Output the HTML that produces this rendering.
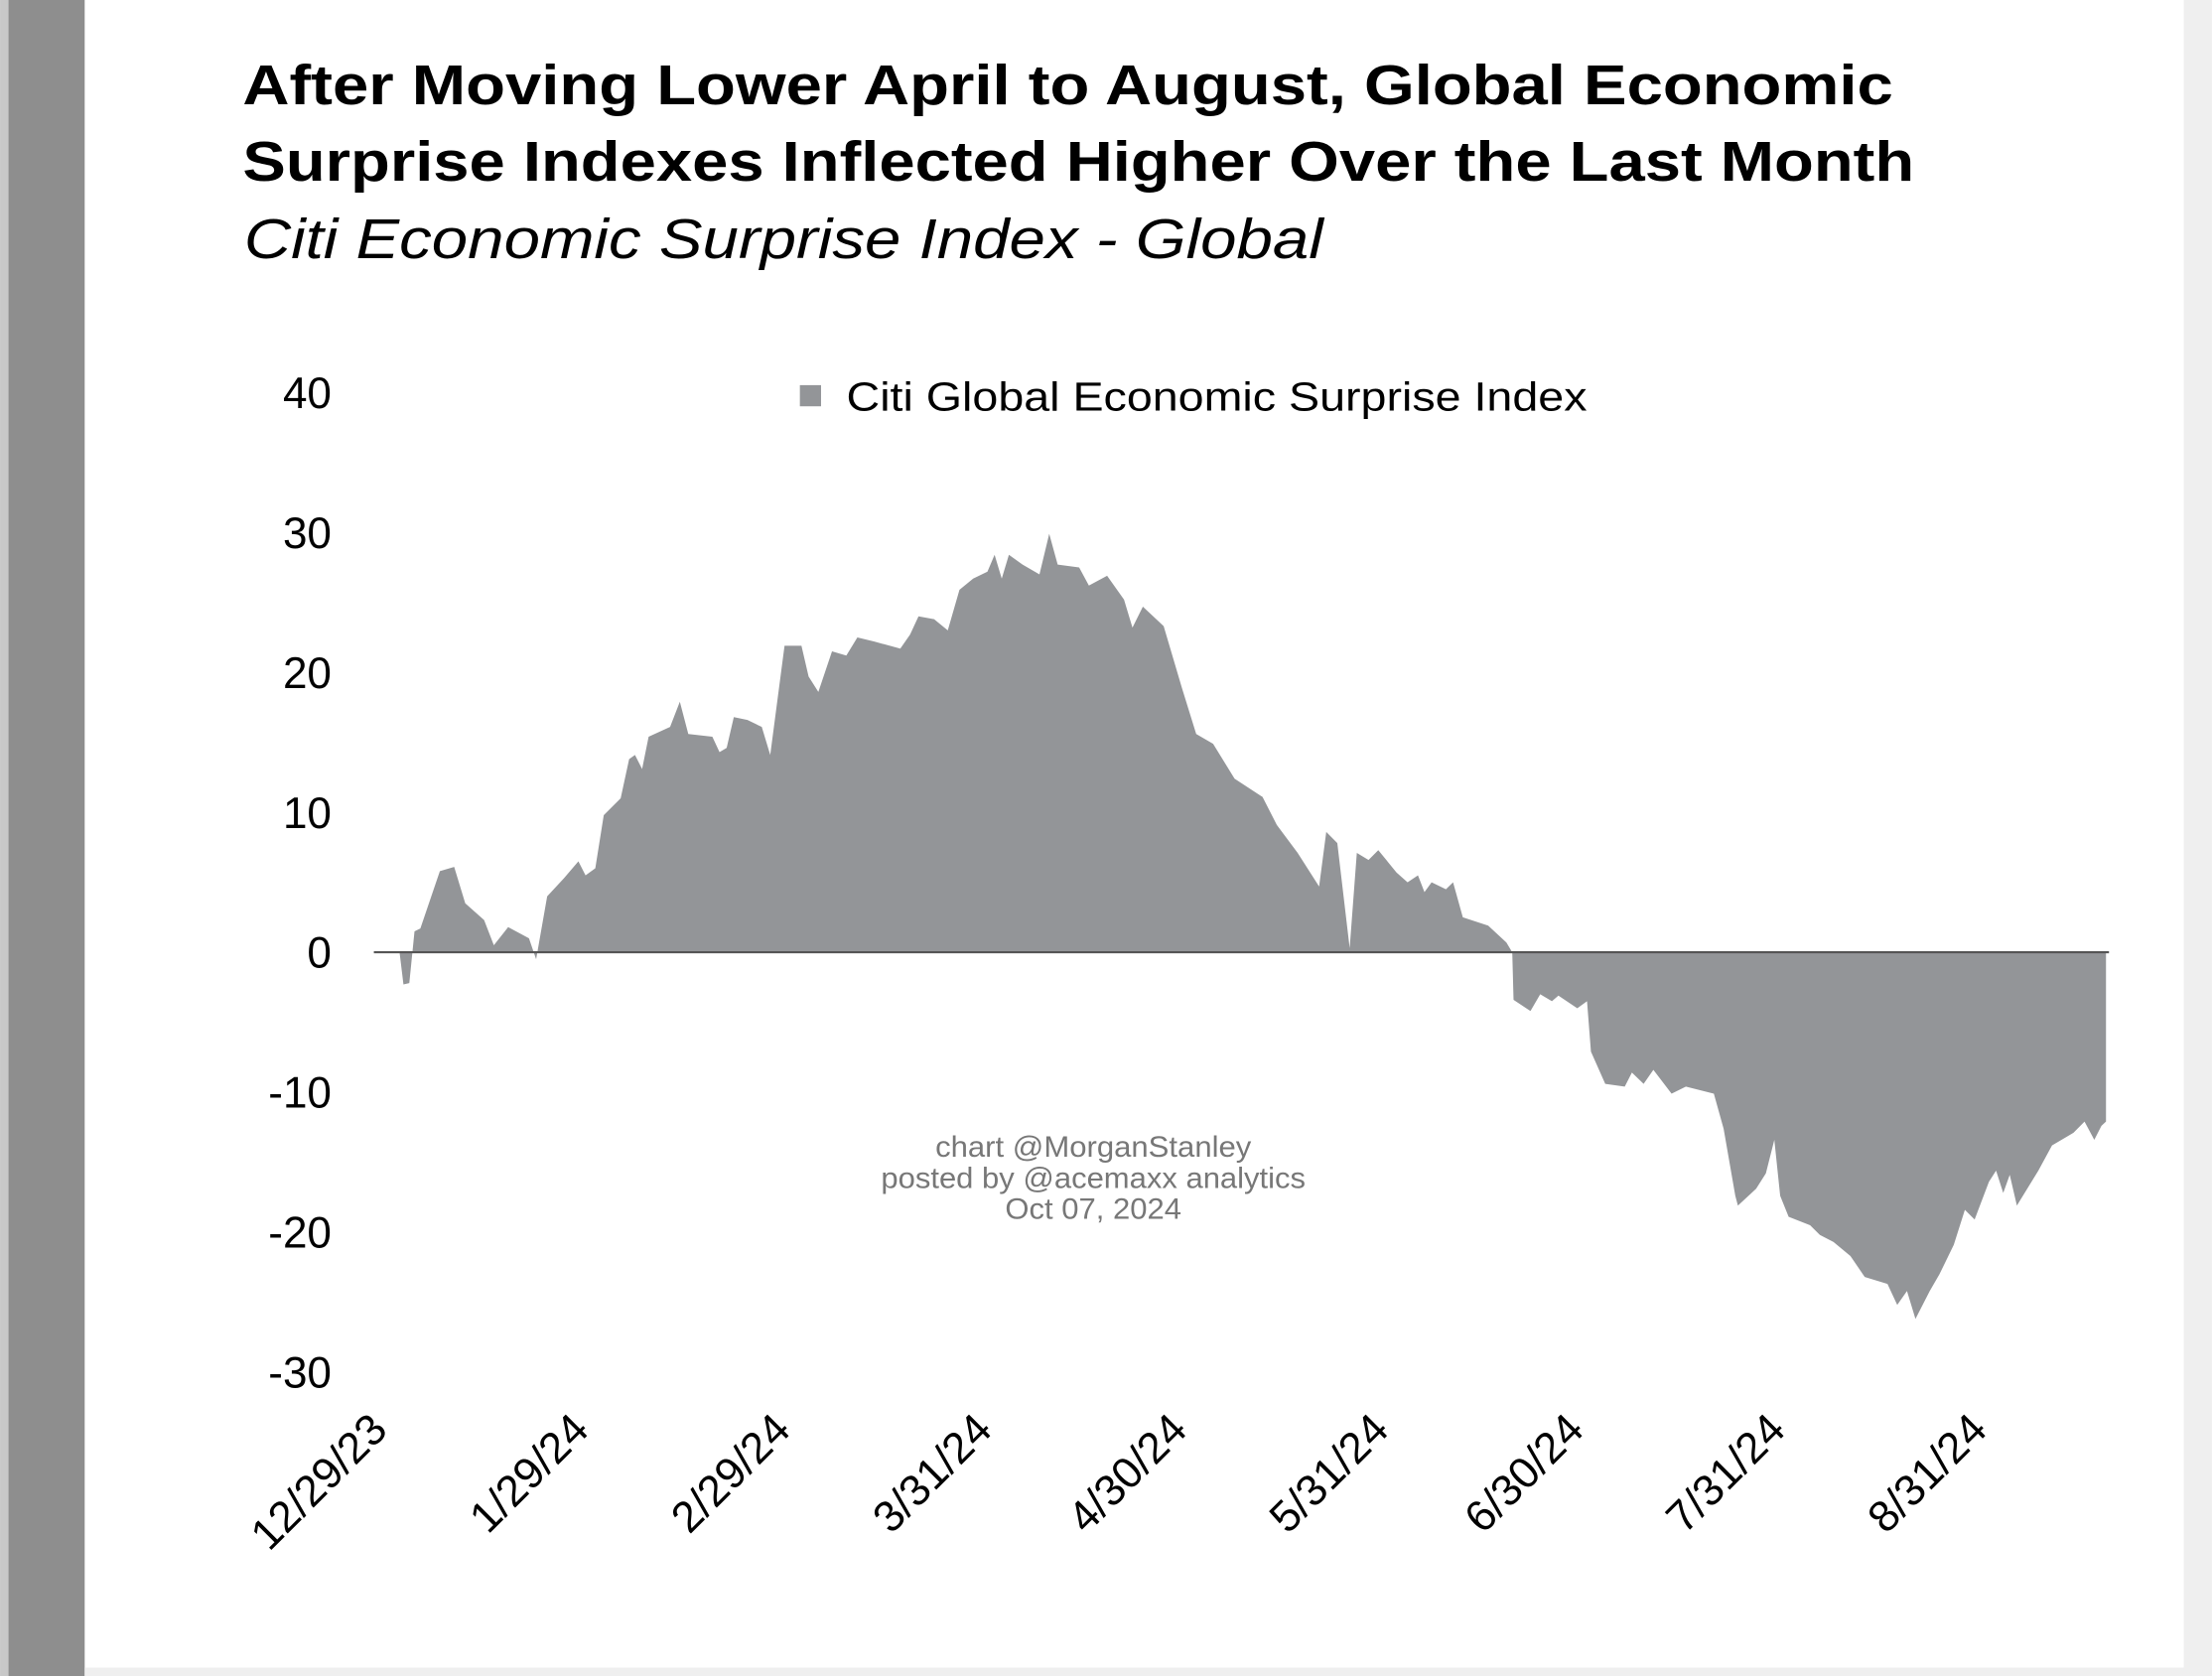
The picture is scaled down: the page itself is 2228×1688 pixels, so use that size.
<!DOCTYPE html>
<html><head><meta charset="utf-8"><style>
html,body{margin:0;padding:0;background:#fff;}
svg{display:block;}
</style></head><body>
<svg id="chart" width="2228" height="1688" viewBox="0 0 1568 1188" xmlns="http://www.w3.org/2000/svg" font-family="'Liberation Sans', Arial, sans-serif">
<rect x="0" y="0" width="1568" height="1188" fill="#ffffff"/>
<rect x="0" y="0" width="6" height="1188" fill="#c8c8c8"/>
<rect x="6" y="0" width="54" height="1188" fill="#8e8e8e"/>
<rect x="1548" y="0" width="20" height="1188" fill="#efefef"/>
<rect x="60" y="1182" width="1508" height="6" fill="#efefef"/>
<text x="172" y="74" font-size="40" font-weight="bold" textLength="1170" lengthAdjust="spacingAndGlyphs">After Moving Lower April to August, Global Economic</text>
<text x="172" y="128" font-size="40" font-weight="bold" textLength="1185" lengthAdjust="spacingAndGlyphs">Surprise Indexes Inflected Higher Over the Last Month</text>
<text x="173" y="183" font-size="40" font-style="italic" textLength="765" lengthAdjust="spacingAndGlyphs">Citi Economic Surprise Index - Global</text>
<rect x="567" y="273" width="15" height="15" fill="#939598"/>
<text x="600" y="291" font-size="29" textLength="525" lengthAdjust="spacingAndGlyphs">Citi Global Economic Surprise Index</text>
<g id="yaxis"></g>
<g id="xaxis"></g>
<g id="plot"></g>
<g font-size="21" fill="#777" text-anchor="middle">
<text x="775" y="820" textLength="224" lengthAdjust="spacingAndGlyphs">chart @MorganStanley</text>
<text x="775" y="842" textLength="301" lengthAdjust="spacingAndGlyphs">posted by @acemaxx analytics</text>
<text x="775" y="864" textLength="125" lengthAdjust="spacingAndGlyphs">Oct 07, 2024</text>
</g>
</svg>
<script>
const yTicks = [40, 30, 20, 10, 0, -10, -20, -30];
const xTickLabels = ["12/29/23","1/29/24","2/29/24","3/31/24","4/30/24","5/31/24","6/30/24","7/31/24","8/31/24"];
const xTickDays = [0, 31, 62, 93, 123, 154, 184, 215, 246];
const days = [-0.5,3.3,3.9,4.8,5.6,6.5,9.5,11.7,13.4,16.3,17.8,20.0,23.2,24.3,26.0,28.6,30.8,31.9,33.4,34.7,37.3,38.6,39.5,40.6,41.6,44.9,46.4,47.7,51.4,52.5,53.6,54.7,56.8,59.0,60.3,62.5,65.1,66.2,67.7,69.8,72.0,73.7,76.3,80.3,81.8,83.1,85.5,87.6,89.4,91.5,93.7,94.8,95.9,97.0,99.1,101.7,103.2,104.5,107.8,109.3,112.1,114.7,116.0,117.6,120.8,123.6,125.8,128.4,131.7,136.0,138.2,141.4,144.7,145.8,147.5,149.4,150.5,152.3,153.8,156.6,158.3,159.9,160.9,162.0,164.2,165.3,166.8,170.7,173.5,174.4,174.6,177.2,178.7,180.5,181.5,184.4,185.9,186.5,188.7,191.7,192.8,194.6,196.1,198.9,201.1,205.4,206.9,208.7,209.1,211.9,213.4,214.7,215.6,216.9,220.2,221.7,223.8,226.4,228.6,232.1,233.6,235.1,236.4,238.6,240.1,242.3,244.0,245.5,247.7,248.8,249.9,250.9,252.0,255.3,257.4,260.7,262.4,263.9,265.0,265.7];
const values = [0,0,-2.3,-2.2,1.5,1.7,5.8,6.1,3.5,2.3,0.5,1.8,1.0,-0.5,4.0,5.3,6.5,5.5,6.0,9.8,11.0,13.8,14.1,13.1,15.4,16.1,17.9,15.6,15.4,14.3,14.6,16.8,16.6,16.1,14.1,21.9,21.9,19.7,18.6,21.5,21.2,22.5,22.2,21.7,22.7,24.0,23.8,23.0,25.9,26.7,27.2,28.4,26.7,28.4,27.7,27.0,29.9,27.7,27.5,26.2,26.9,25.2,23.2,24.7,23.3,18.9,15.6,14.9,12.4,11.1,9.1,7.1,4.7,8.6,7.8,0.3,7.1,6.6,7.3,5.7,5.0,5.5,4.3,5.0,4.5,5.0,2.5,1.9,0.7,0,-3.4,-4.2,-3.0,-3.5,-3.1,-4.0,-3.5,-7.1,-9.4,-9.6,-8.6,-9.4,-8.4,-10.1,-9.6,-10.1,-12.6,-17.4,-18.1,-16.9,-15.8,-13.4,-17.4,-18.9,-19.5,-20.2,-20.7,-21.7,-23.2,-23.7,-25.2,-24.2,-26.2,-24.2,-23.0,-20.9,-18.4,-19.1,-16.4,-15.6,-17.2,-15.9,-18.1,-15.6,-13.8,-12.9,-12.1,-13.4,-12.4,-12.1];

const NS = "http://www.w3.org/2000/svg";
function yScale(v){ return 675 - v * 9.92; }
function xScale(d){ return 268 + d * 4.61; }

const yG = document.getElementById('yaxis');
yTicks.forEach(v => {
  const t = document.createElementNS(NS, 'text');
  
  
  t.setAttribute('x', 235);
  t.setAttribute('y', yScale(v) + 11);
  t.setAttribute('font-size', '31');
  t.setAttribute('text-anchor', 'end');
  t.textContent = v;
  yG.appendChild(t);
});

const xG = document.getElementById('xaxis');
xTickLabels.forEach((lab, i) => {
  const x = xScale(xTickDays[i]);
  const t = document.createElementNS(NS, 'text');
  
  
  t.setAttribute('font-size', '31');
  t.setAttribute('text-anchor', 'end');
  t.setAttribute('transform', 'translate(' + (x + 8) + ',1015) rotate(-45)');
  t.textContent = lab;
  xG.appendChild(t);
});

const plot = document.getElementById('plot');
let d = 'M' + xScale(days[0]) + ',' + yScale(0);
days.forEach((dd, i) => { d += ' L' + xScale(dd) + ',' + yScale(values[i]); });
d += ' L' + xScale(days[days.length - 1]) + ',' + yScale(0) + ' Z';
const area = document.createElementNS(NS, 'path');


area.setAttribute('d', d);
area.setAttribute('fill', '#939598');
plot.appendChild(area);

const zl = document.createElementNS(NS, 'line');


zl.setAttribute('x1', 265);
zl.setAttribute('x2', 1495);
zl.setAttribute('y1', yScale(0));
zl.setAttribute('y2', yScale(0));
zl.setAttribute('stroke', '#555');
zl.setAttribute('stroke-width', '1.5');
plot.appendChild(zl);
</script>
</body></html>
